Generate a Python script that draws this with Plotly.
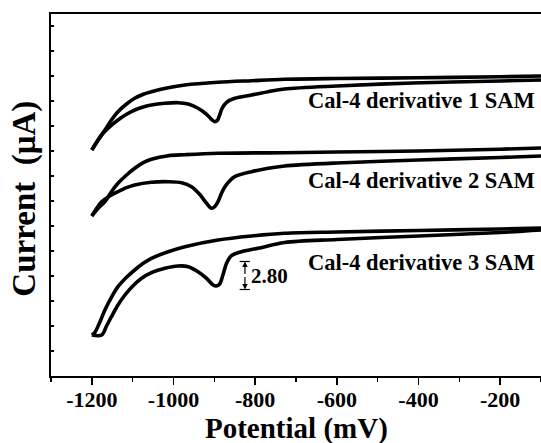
import plotly.graph_objects as go

# ---- data (potential in mV, current in µA, curves vertically offset) ----
# curve 1 (derivative 1), upper (outer) branch and lower branch with reduction peak
c1_up_x = [-1200, -1184.5, -1168, -1152, -1136, -1115, -1095, -1074, -1054, -1013, -972, -891, -809, -728, -600, -400, -200, -100]
c1_up_y = [22.6, 23.6, 24.6, 25.6, 26.43, 27.2, 27.77, 28.17, 28.43, 28.83, 29.1, 29.37, 29.53, 29.67, 29.75, 29.82, 29.92, 30.0]
c1_lo_x = [-1200, -1176, -1156, -1136, -1115, -1095, -1074, -1054, -1021, -989, -964, -940, -919, -907, -899, -892, -887, -881, -870, -850, -809, -768, -728, -600, -414, -200, -100]
c1_lo_y = [22.6, 24.1, 24.93, 25.6, 26.17, 26.6, 26.9, 27.1, 27.27, 27.33, 27.2, 26.77, 26.17, 25.67, 25.43, 25.6, 26.1, 26.77, 27.37, 27.77, 28.1, 28.43, 28.7, 29.0, 29.3, 29.5, 29.6]

# curve 2 (derivative 2)
c2_up_x = [-1200, -1184.5, -1168, -1152, -1136, -1115, -1095, -1074, -1054, -1013, -972, -891, -728, -600, -400, -200, -100]
c2_up_y = [16.0, 16.77, 17.43, 18.43, 19.27, 20.1, 20.77, 21.33, 21.67, 22.03, 22.13, 22.27, 22.33, 22.4, 22.5, 22.68, 22.8]
c2_lo_x = [-1200, -1176, -1156, -1136, -1115, -1095, -1054, -1013, -980, -956, -936, -919, -907, -899, -891, -882.5, -874, -862, -850, -809, -768, -728, -600, -400, -200, -100]
c2_lo_y = [16.0, 17.43, 18.0, 18.43, 18.83, 19.1, 19.37, 19.43, 19.33, 18.93, 18.17, 17.27, 16.77, 16.93, 17.43, 18.27, 18.93, 19.53, 19.93, 20.43, 20.77, 21.0, 21.3, 21.6, 21.85, 22.0]

# curve 3 (derivative 3)
c3_up_x = [-1200, -1193, -1180, -1168, -1152, -1136, -1115, -1095, -1074, -1054, -1013, -972, -891, -809, -728, -600, -400, -200, -100]
c3_up_y = [4.1, 4.33, 5.43, 6.6, 7.87, 8.93, 9.87, 10.6, 11.27, 11.77, 12.43, 12.93, 13.6, 14.0, 14.27, 14.4, 14.55, 14.7, 14.8]
c3_lo_x = [-1200, -1176, -1164, -1152, -1136, -1119, -1099, -1078, -1054, -1021, -989, -964, -940, -919, -903, -895, -887, -879, -870, -858, -834, -793, -728, -600, -400, -200, -100]
c3_lo_y = [4.1, 4.1, 5.0, 5.93, 7.1, 8.1, 9.03, 9.77, 10.33, 10.77, 11.0, 10.93, 10.43, 9.77, 9.1, 9.0, 9.2, 10.1, 11.27, 12.03, 12.43, 12.77, 13.35, 13.65, 14.0, 14.35, 14.6]

labels = ["Cal-4 derivative 1 SAM", "Cal-4 derivative 2 SAM", "Cal-4 derivative 3 SAM"]
label_y = [27.6, 19.6, 11.4]

x_ticks = [-1200, -1000, -800, -600, -400, -200]
x_minor = [-1300, -1100, -900, -700, -500, -300, -100]

scale_x = -825
scale_lo = 8.65
scale_hi = 11.45
scale_text = "2.80"

FONT = "Liberation Serif, Times New Roman, serif"

fig = go.Figure()
branches = [(c1_up_x, c1_up_y), (c1_lo_x, c1_lo_y),
            (c2_up_x, c2_up_y), (c2_lo_x, c2_lo_y),
            (c3_up_x, c3_up_y), (c3_lo_x, c3_lo_y)]
for bx, by in branches:
    fig.add_trace(go.Scatter(x=bx, y=by, mode="lines",
                             line=dict(color="black", width=3.6, shape="spline", smoothing=0.9),
                             showlegend=False, hoverinfo="skip", cliponaxis=True))

for t, yy in zip(labels, label_y):
    fig.add_annotation(x=0.992, xref="paper", y=yy, yref="y", text="<b>" + t + "</b>",
                       showarrow=False, xanchor="right", yanchor="middle",
                       font=dict(family=FONT, size=22.5, color="black"))

# scale bar
mid = (scale_lo + scale_hi) / 2
for target in (scale_hi, scale_lo):
    fig.add_annotation(x=scale_x, y=target, ax=scale_x, ay=mid, xref="x", yref="y",
                       axref="x", ayref="y", text="", showarrow=True,
                       arrowhead=2, arrowsize=0.9, arrowwidth=1.2, arrowcolor="black")
for yy in (scale_lo, scale_hi):
    fig.add_shape(type="line", x0=scale_x - 13, x1=scale_x + 12, y0=yy, y1=yy,
                  xref="x", yref="y", line=dict(color="black", width=1.2))
fig.add_annotation(x=scale_x + 10, y=mid, xref="x", yref="y", text="<b>" + scale_text + "</b>",
                   showarrow=False, xanchor="left", yanchor="middle",
                   font=dict(family=FONT, size=21, color="black"))

# axis titles
fig.add_annotation(x=-0.053, y=0.49, xref="paper", yref="paper", text="<b>Current  (μA)</b>",
                   textangle=-90, showarrow=False, xanchor="center", yanchor="middle",
                   font=dict(family=FONT, size=33, color="black"))
fig.add_annotation(x=0.502, y=-0.145, xref="paper", yref="paper", text="<b>Potential (mV)</b>",
                   showarrow=False, xanchor="center", yanchor="middle",
                   font=dict(family=FONT, size=29, color="black"))

fig.update_xaxes(range=[-1300, -100], tickmode="array", tickvals=x_ticks,
                 ticktext=["<b>%d</b>" % v for v in x_ticks],
                 ticks="outside", ticklen=7, tickwidth=1.5, tickcolor="black",
                 ticklabelstandoff=-4,
                 showline=True, linecolor="black", linewidth=2,
                 mirror=True, showgrid=False, zeroline=False,
                 tickfont=dict(family=FONT, size=22, color="black"),
                 minor=dict(tickmode="array", tickvals=x_minor, ticks="outside", ticklen=4,
                            tickwidth=1.5, tickcolor="black", showgrid=False))
fig.update_yaxes(range=[0, 36.2], tick0=0, dtick=2.5, ticks="inside", ticklen=3, tickwidth=1.5,
                 tickcolor="black", showticklabels=False, showline=True, linecolor="black",
                 linewidth=2, mirror=False, showgrid=False, zeroline=False)

fig.update_layout(width=541, height=443, margin=dict(l=51, r=0, t=14, b=67),
                  plot_bgcolor="white", paper_bgcolor="white",
                  font=dict(family=FONT, color="black"))

# remove the page's default body margin so the figure fills the window exactly
fig.write_html("out.html", config={"displayModeBar": False, "staticPlot": True},
               post_script="document.body.style.margin='0';document.body.style.overflow='hidden';")
